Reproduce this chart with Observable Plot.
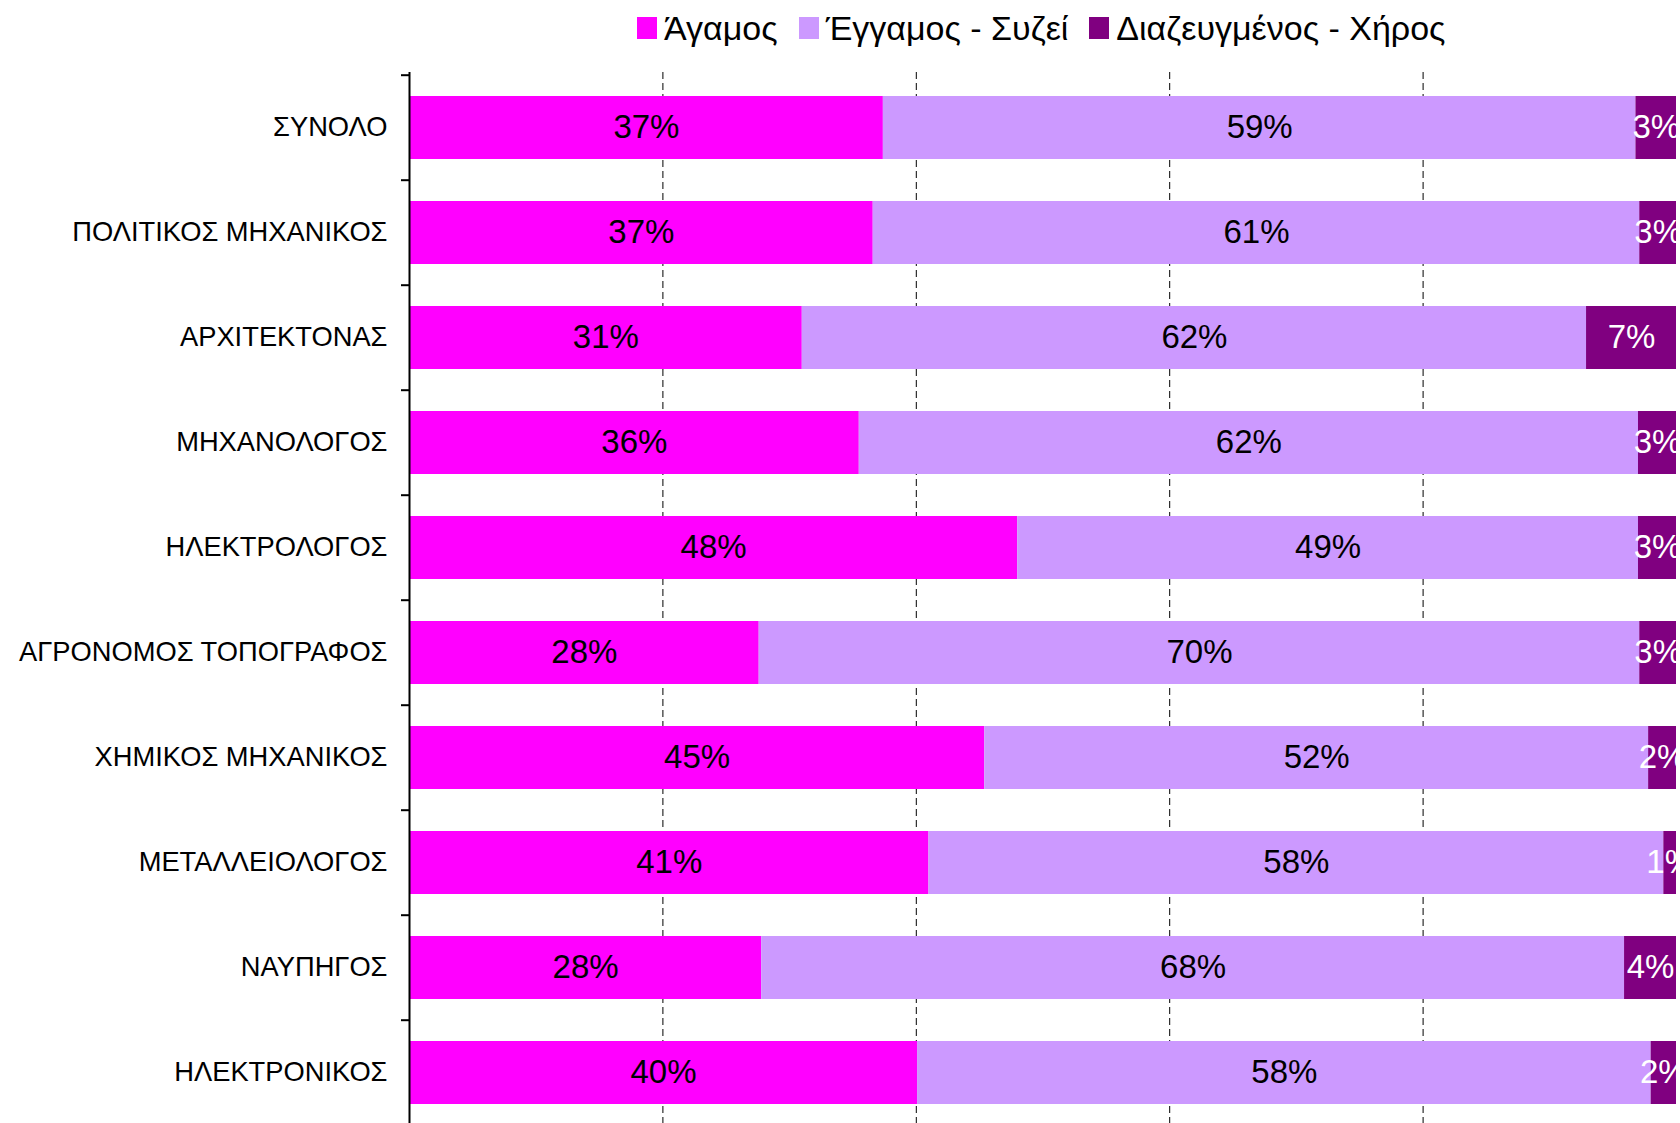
<!DOCTYPE html>
<html>
<head>
<meta charset="utf-8">
<script src="https://cdn.jsdelivr.net/npm/d3@7"></script>
<script src="https://cdn.jsdelivr.net/npm/@observablehq/plot@0.6"></script>
<style>
  html, body { margin: 0; padding: 0; background: #fff; }
  #wrap { position: relative; width: 1680px; height: 1123px; font-family: "Liberation Sans", Arial, sans-serif; }
  #legend { position: absolute; top: 8px; left: 637px; height: 40px; display: flex; align-items: center; font-size: 34px; color: #000; white-space: nowrap; }
  #legend .item { display: flex; align-items: center; margin-right: 21px; }
  #legend .sw { width: 20px; height: 22px; margin-right: 7px; }
  svg { display: block; }
</style>
</head>
<body>
<div id="wrap">
  <div id="legend"></div>
  <div id="chart"></div>
</div>
<script>
const categories = [
  "ΣΥΝΟΛΟ",
  "ΠΟΛΙΤΙΚΟΣ ΜΗΧΑΝΙΚΟΣ",
  "ΑΡΧΙΤΕΚΤΟΝΑΣ",
  "ΜΗΧΑΝΟΛΟΓΟΣ",
  "ΗΛΕΚΤΡΟΛΟΓΟΣ",
  "ΑΓΡΟΝΟΜΟΣ ΤΟΠΟΓΡΑΦΟΣ",
  "ΧΗΜΙΚΟΣ ΜΗΧΑΝΙΚΟΣ",
  "ΜΕΤΑΛΛΕΙΟΛΟΓΟΣ",
  "ΝΑΥΠΗΓΟΣ",
  "ΗΛΕΚΤΡΟΝΙΚΟΣ"
];
const seriesNames = ["Άγαμος", "Έγγαμος - Συζεί", "Διαζευγμένος - Χήρος"];
const seriesColors = ["#ff00ff", "#cc99ff", "#800080"];
const labelColors = ["#000000", "#000000", "#ffffff"];

const agamos   = [37.4, 36.6, 31.0, 35.5, 48.0, 27.6, 45.4, 41.0, 27.8, 40.1];
const eggamos  = [59.4, 60.5, 61.9, 61.5, 49.0, 69.5, 52.4, 58.0, 68.1, 57.9];
const diazeyg  = [ 3.2,  2.9,  7.1,  3.0,  3.0,  2.9,  2.2,  1.0,  4.1,  2.0];

const gridTicks = [20, 40, 60, 80];

const seriesValues = [agamos, eggamos, diazeyg];
const data = [];
categories.forEach((c, i) => {
  seriesNames.forEach((s, j) => {
    data.push({cat: c, series: s, si: j, value: seriesValues[j][i]});
  });
});

// legend
const legend = document.getElementById("legend");
seriesNames.forEach((s, j) => {
  const it = document.createElement("div");
  it.className = "item";
  const sw = document.createElement("div");
  sw.className = "sw";
  sw.style.background = seriesColors[j];
  const tx = document.createElement("span");
  tx.textContent = s;
  it.appendChild(sw); it.appendChild(tx);
  legend.appendChild(it);
});

const W = 1680, H = 1123;
const yRange = [72, 1128];
const step = (yRange[1] - yRange[0]) / categories.length;

const chart = Plot.plot({
  width: W,
  height: H,
  marginTop: 72,
  marginBottom: 0,
  marginLeft: 409,
  marginRight: 4,
  style: {fontFamily: "'Liberation Sans', Arial, sans-serif", background: "white", color: "black"},
  x: {domain: [0, 100], axis: null},
  y: {domain: categories, range: yRange, paddingInner: 0.4, paddingOuter: 0.2, axis: null},
  color: {type: "identity"},
  marks: [
    Plot.ruleX(gridTicks, {stroke: "black", strokeWidth: 1, strokeDasharray: "7,4"}),
    Plot.barX(data, Plot.stackX({x: "value", y: "cat", z: "series", fill: d => seriesColors[d.si]})),
    Plot.text(data, Plot.stackX({
      x: "value", y: "cat", z: "series",
      text: d => Math.round(d.value) + "%",
      fill: d => labelColors[d.si],
      fontSize: 33,
      dy: -1,
      clip: true
    })),
    Plot.axisY({tickSize: 0, tickPadding: 22, fontSize: 27.3, label: null, anchor: "left", dy: -1}),
    Plot.axisY({tickSize: 8, text: null, label: null, anchor: "left", dy: -step / 2, strokeWidth: 2}),
    Plot.ruleX([0], {stroke: "black", strokeWidth: 2})
  ]
});
document.getElementById("chart").appendChild(chart);
</script>
</body>
</html>
